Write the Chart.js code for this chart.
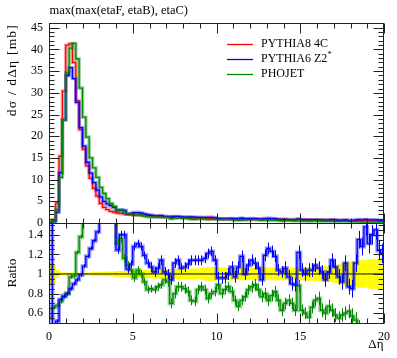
<!DOCTYPE html>
<html><head><meta charset="utf-8">
<script src="https://cdn.jsdelivr.net/npm/chart.js@4"></script>
<style>html,body{margin:0;padding:0;background:#fff;}canvas{display:block;}</style>
</head><body>
<canvas id="c" width="397" height="358"></canvas>
<script>
// ---------------- data ----------------
const xMin = 0, binWidth = 0.2, nBins = 100;
const xTickLabels = [0, 5, 10, 15, 20];
const mainTickLabels = [0, 5, 10, 15, 20, 25, 30, 35, 40, 45];
const ratioTickLabels = [0.6, 0.8, 1, 1.2, 1.4];
const seriesNames = ['PYTHIA8 4C', 'PYTHIA6 Z2*', 'PHOJET'];

// dsigma/dDeta [mb], bins of 0.2 in Delta eta
const pythia8 = [
 0.3,0.8,4.6,15.4,30.4,41.0,41.3,37.0,28.2,21.5,
 17.0,13.2,10.3,8.0,6.2,4.5,3.6,3.1,2.7,2.5,
 2.3,2.2,2.1,2.0,1.95,1.9,1.85,1.8,1.75,1.7,
 1.65,1.6,1.55,1.5,1.46,1.42,1.4,1.36,1.33,1.3,
 1.27,1.24,1.21,1.18,1.15,1.12,1.1,1.08,1.06,1.04,
 1.02,1.0,0.98,0.97,0.96,0.95,0.94,0.93,0.92,0.91,
 0.9,0.89,0.88,0.87,0.86,0.85,0.84,0.83,0.82,0.81,
 0.8,0.79,0.78,0.77,0.76,0.75,0.74,0.73,0.72,0.71,
 0.7,0.69,0.68,0.67,0.66,0.65,0.64,0.63,0.62,0.61,
 0.6,0.59,0.58,0.57,0.56,0.55,0.53,0.5,0.48,0.45];
const pythia6 = [
 0.1,0.3,2.5,11.6,23.8,34.0,35.8,33.3,27.8,22.0,
 17.7,14.0,11.5,9.3,7.6,6.0,5.0,4.4,4.0,3.6,
 2.85,3.0,2.9,2.1,2.15,2.4,2.4,2.3,2.1,1.9,
 1.77,1.63,1.64,1.71,1.48,1.42,1.32,1.51,1.52,1.38,
 1.36,1.36,1.38,1.35,1.31,1.28,1.28,1.31,1.3,1.19,
 0.98,0.96,0.94,0.97,1.03,0.92,1.0,1.1,0.92,0.99,
 1.03,0.99,0.93,0.82,1.02,1.07,1.03,0.98,0.85,0.83,
 0.85,0.77,0.7,0.69,0.93,0.78,0.74,0.76,0.75,0.77,
 0.74,0.7,0.64,0.68,0.75,0.7,0.62,0.58,0.69,0.53,
 0.51,0.65,0.78,0.73,0.83,0.72,0.74,0.73,0.6,0.54];
const phojet = [
 0.2,0.5,3.1,10.5,23.8,34.6,40.3,41.4,37.8,31.1,
 24.4,19.8,15.0,12.7,10.5,8.2,6.8,5.6,4.5,3.8,
 3.0,3.0,2.45,2.18,2.03,1.82,1.92,1.8,1.61,1.43,
 1.4,1.34,1.35,1.34,1.36,1.31,0.98,1.09,1.16,1.13,
 1.08,1.02,0.88,0.85,0.97,0.97,0.92,0.81,0.85,0.85,
 0.91,0.8,0.82,0.84,0.79,0.69,0.63,0.68,0.71,0.76,
 0.78,0.79,0.74,0.67,0.69,0.62,0.66,0.68,0.6,0.51,
 0.56,0.58,0.55,0.49,0.67,0.47,0.44,0.41,0.48,0.52,
 0.53,0.43,0.41,0.45,0.42,0.38,0.35,0.37,0.37,0.38,
 0.34,0.31,0.26,0.23,0.22,0.22,0.21,0.2,0.19,0.18];

// ratio to PYTHIA8 4C
const pythia6Ratio = [
 1.6,0.45,0.52,0.74,0.77,0.8,0.85,0.9,0.94,0.99,
 1.08,1.18,1.26,1.34,1.43,1.6,1.6,1.6,1.6,1.6,
 1.245,1.4,1.4,1.05,1.1,1.28,1.31,1.28,1.19,1.11,
 1.07,1.02,1.06,1.14,1.02,1.0,0.94,1.11,1.14,1.06,
 1.07,1.1,1.14,1.14,1.14,1.14,1.16,1.21,1.23,1.14,
 0.96,0.96,0.96,1.0,1.07,0.97,1.07,1.18,1.0,1.09,
 1.14,1.11,1.06,0.94,1.19,1.26,1.23,1.18,1.04,1.02,
 1.06,0.97,0.9,0.89,1.22,1.04,1.0,1.04,1.04,1.09,
 1.06,1.02,0.94,1.02,1.14,1.07,0.97,0.92,1.11,0.87,
 0.85,1.11,1.35,1.28,1.48,1.31,1.4,1.45,1.24,1.21];
const phojetRatio = [
 0.55,0.66,0.68,0.72,0.78,0.8,0.97,0.98,1.22,1.38,
 1.6,1.6,1.6,1.6,1.6,1.6,1.6,1.6,1.6,1.6,
 1.31,1.36,1.16,1.09,1.04,0.96,1.04,1.0,0.92,0.84,
 0.85,0.84,0.87,0.89,0.94,0.92,0.7,0.8,0.87,0.87,
 0.85,0.82,0.73,0.72,0.84,0.87,0.84,0.75,0.8,0.82,
 0.89,0.8,0.84,0.87,0.82,0.73,0.67,0.73,0.77,0.84,
 0.87,0.89,0.84,0.77,0.8,0.73,0.78,0.82,0.73,0.63,
 0.7,0.73,0.7,0.63,0.88,0.63,0.6,0.56,0.66,0.73,
 0.75,0.63,0.6,0.67,0.63,0.58,0.55,0.58,0.6,0.62,
 0.57,0.53,0.45,0.4,0.4,0.4,0.4,0.4,0.4,0.4];
// half width of the reference uncertainty band (yellow)
const refBandHalf = [
 0.11,0.1,0.04,0.02,0.015,0.015,0.015,0.015,0.015,0.015,
 0.015,0.015,0.015,0.02,0.02,0.02,0.02,0.025,0.025,0.025,
 0.03,0.03,0.03,0.035,0.035,0.035,0.04,0.04,0.04,0.04,
 0.045,0.045,0.045,0.045,0.05,0.05,0.05,0.05,0.05,0.05,
 0.055,0.055,0.055,0.055,0.055,0.06,0.065,0.07,0.07,0.07,
 0.07,0.065,0.065,0.065,0.065,0.065,0.065,0.065,0.065,0.065,
 0.065,0.065,0.065,0.065,0.065,0.065,0.065,0.065,0.065,0.065,
 0.065,0.065,0.065,0.065,0.065,0.065,0.065,0.07,0.07,0.07,
 0.075,0.075,0.08,0.08,0.085,0.09,0.1,0.11,0.12,0.12,
 0.13,0.13,0.14,0.14,0.14,0.15,0.15,0.15,0.16,0.16];
// ratio uncertainties, one value per unit of Delta eta
const pythia6RatioErr = [0.02,0.02,0.02,0.03,0.04,0.04,0.05,0.05,0.05,0.05,0.06,0.06,0.06,0.06,0.07,0.07,0.07,0.08,0.09,0.1];
const phojetRatioErr  = [0.02,0.02,0.02,0.03,0.04,0.04,0.04,0.05,0.05,0.05,0.05,0.05,0.06,0.06,0.06,0.06,0.07,0.07,0.08,0.08];

// ---------------- helpers ----------------
const edges = Array.from({length: nBins + 1}, (_, i) => +(xMin + i * binWidth).toFixed(3));
function steps(vals) {
  const pts = vals.map((v, i) => ({x: edges[i], y: v}));
  pts.push({x: edges[vals.length], y: vals[vals.length - 1]});
  return pts;
}
const RED = '#ff0000', BLUE = '#0000ff', GREEN = '#008a00';
const HRED = 'rgba(255,0,0,0.35)', HBLUE = 'rgba(0,0,255,0.4)', HGREEN = 'rgba(0,138,0,0.4)';
const FONT = "'Liberation Serif', 'DejaVu Serif', serif";

function line(data, axis, color, width, order, extra) {
  return Object.assign({data: steps(data), yAxisID: axis, stepped: true, borderColor: color,
    borderWidth: width, pointRadius: 0, fill: false, order: order, clip: 0}, extra || {});
}

const datasets = [
  line(refBandHalf.map(h => 1 + h), 'yr', 'rgba(0,0,0,0)', 0, 30, {fill: '+1', backgroundColor: '#ffff00'}),
  line(refBandHalf.map(h => 1 - h), 'yr', 'rgba(0,0,0,0)', 0, 31),
  line(pythia8.map(() => 1), 'yr', '#000000', 1, 20),
  line(pythia8, 'y', HRED, 3.5, 12),
  line(pythia6, 'y', HBLUE, 3.5, 11),
  line(phojet, 'y', HGREEN, 3.5, 10),
  line(pythia8, 'y', RED, 1.3, 3),
  line(pythia6, 'y', BLUE, 1.3, 2),
  line(phojet, 'y', GREEN, 1.3, 1),
  line(phojetRatio, 'yr', HGREEN, 4, 9),
  line(pythia6Ratio, 'yr', HBLUE, 4, 8),
  line(phojetRatio, 'yr', GREEN, 1.3, 1),
  line(pythia6Ratio, 'yr', BLUE, 1.3, 0),
];

const AXIS_W = 49, AXIS_H = 35;
function fitAxis(scale) {
  if (scale.isHorizontal()) scale.height = AXIS_H; else scale.width = AXIS_W;
  scale.paddingTop = 0; scale.paddingBottom = 0; scale.paddingLeft = 0; scale.paddingRight = 0;
}
function setTicks(arr) { return (scale) => { scale.ticks = arr.map(v => ({value: v})); }; }

const errorBars = {
  id: 'errorBars',
  afterDatasetsDraw(chart) {
    const {ctx} = chart, x = chart.scales.x, yr = chart.scales.yr;
    ctx.save();
    ctx.beginPath();
    ctx.rect(x.left, yr.top, x.right - x.left, yr.bottom - yr.top);
    ctx.clip();
    ctx.lineWidth = 1;
    [[phojetRatio, phojetRatioErr, GREEN], [pythia6Ratio, pythia6RatioErr, BLUE]].forEach(([vals, errs, col]) => {
      ctx.strokeStyle = col;
      vals.forEach((v, i) => {
        const c = edges[i] + binWidth / 2;
        const e = errs[Math.min(errs.length - 1, Math.floor(c))];
        const px = Math.round(x.getPixelForValue(c)) + 0.5;
        ctx.beginPath();
        ctx.moveTo(px, yr.getPixelForValue(v - e));
        ctx.lineTo(px, yr.getPixelForValue(v + e));
        ctx.stroke();
      });
    });
    ctx.restore();
  }
};

const decor = {
  id: 'decor',
  afterDraw(chart) {
    const {ctx} = chart, x = chart.scales.x, ym = chart.scales.y, yr = chart.scales.yr;
    ctx.save();
    ctx.strokeStyle = '#222';
    ctx.lineWidth = 1;
    const L = Math.round(x.left) + 0.5, R = Math.round(x.right) - 0.5;
    const panels = [
      {s: ym, major: mainTickLabels, minorStep: 1, lo: 0, hi: 46},
      {s: yr, major: ratioTickLabels, minorStep: 0.05, lo: 0.5, hi: 1.52},
    ];
    panels.forEach(p => {
      const T = Math.round(p.s.top) + 0.5, B = Math.round(p.s.bottom) + 0.5;
      ctx.strokeRect(L, T, R - L, B - T);
      ctx.beginPath();
      for (let v = 0; v <= 20; v += 1) {
        const px = Math.round(x.getPixelForValue(v)) + 0.5;
        const len = xTickLabels.includes(v) ? 10 : 5;
        ctx.moveTo(px, T); ctx.lineTo(px, T + len);
        ctx.moveTo(px, B); ctx.lineTo(px, B - len);
      }
      const n = Math.round((p.hi - p.lo) / p.minorStep);
      for (let k = 0; k <= n; k++) {
        const v = +(p.lo + k * p.minorStep).toFixed(4);
        if (v < p.s.min - 1e-9 || v > p.s.max + 1e-9) continue;
        const py = Math.round(p.s.getPixelForValue(v)) + 0.5;
        const len = p.major.some(m => Math.abs(m - v) < 1e-6) ? 10 : 5;
        ctx.moveTo(L, py); ctx.lineTo(L + len, py);
        ctx.moveTo(R, py); ctx.lineTo(R - len, py);
      }
      ctx.stroke();
    });

    ctx.fillStyle = '#000';
    ctx.font = '12.5px ' + FONT;
    ctx.textAlign = 'left'; ctx.textBaseline = 'alphabetic';
    ctx.fillText('max(max(etaF, etaB), etaC)', L, 14);

    ctx.font = '13.5px ' + FONT;
    ctx.save();
    ctx.letterSpacing = '1.2px';
    ctx.translate(16, ym.top + 1);
    ctx.rotate(-Math.PI / 2);
    ctx.textAlign = 'right'; ctx.textBaseline = 'alphabetic';
    ctx.fillText('dσ / dΔη [mb]', 0, 0);
    ctx.restore();
    ctx.save();
    ctx.translate(16, (yr.top + yr.bottom) / 2);
    ctx.rotate(-Math.PI / 2);
    ctx.textAlign = 'center'; ctx.textBaseline = 'alphabetic';
    ctx.fillText('Ratio', 0, 0);
    ctx.restore();

    ctx.textAlign = 'right'; ctx.textBaseline = 'alphabetic';
    ctx.font = '13px ' + FONT;
    ctx.fillText('Δη', R, 348);

    const cols = [RED, BLUE, GREEN];
    ctx.font = '12px ' + FONT;
    ctx.textAlign = 'left'; ctx.textBaseline = 'middle';
    seriesNames.forEach((name, i) => {
      const yy = 44 + i * 15;
      ctx.strokeStyle = cols[i]; ctx.lineWidth = 1.3;
      ctx.beginPath(); ctx.moveTo(227, yy + 0.5); ctx.lineTo(253, yy + 0.5); ctx.stroke();
      ctx.fillStyle = '#000';
      if (name.endsWith('*')) {
        const base = name.slice(0, -1);
        ctx.fillText(base, 261, yy);
        const w = ctx.measureText(base).width;
        ctx.font = '8px ' + FONT;
        ctx.fillText('*', 261 + w + 0.5, yy - 4);
        ctx.font = '12px ' + FONT;
      } else {
        ctx.fillText(name, 261, yy);
      }
    });
    ctx.restore();
  }
};

const tickFont = {family: FONT, size: 12};
new Chart(document.getElementById('c'), {
  type: 'line',
  data: {datasets},
  options: {
    responsive: false,
    animation: false,
    devicePixelRatio: 1,
    layout: {autoPadding: false, padding: {left: 0, top: 23, right: 13, bottom: 0}},
    plugins: {legend: {display: false}, tooltip: {enabled: false}, title: {display: false}},
    elements: {line: {tension: 0}},
    scales: {
      x: {type: 'linear', min: 0, max: 20, position: 'bottom',
          grid: {display: false, drawTicks: false}, border: {display: false},
          afterBuildTicks: setTicks(xTickLabels), afterFit: fitAxis,
          ticks: {padding: 7, autoSkip: false, color: '#000', font: tickFont, maxRotation: 0,
                  callback: v => String(v)}},
      y: {type: 'linear', min: 0, max: 46.1, position: 'left', stack: 'panels', stackWeight: 2, weight: 1,
          grid: {display: false, drawTicks: false}, border: {display: false},
          afterBuildTicks: setTicks(mainTickLabels), afterFit: fitAxis,
          ticks: {padding: 6, autoSkip: false, color: '#000', font: tickFont, callback: v => String(v)}},
      yr: {type: 'linear', min: 0.5, max: 1.52, position: 'left', stack: 'panels', stackWeight: 1, weight: 0,
          grid: {display: false, drawTicks: false}, border: {display: false},
          afterBuildTicks: setTicks(ratioTickLabels), afterFit: fitAxis,
          ticks: {padding: 6, autoSkip: false, color: '#000', font: tickFont, callback: v => String(v)}}
    }
  },
  plugins: [errorBars, decor]
});
</script>
</body></html>
